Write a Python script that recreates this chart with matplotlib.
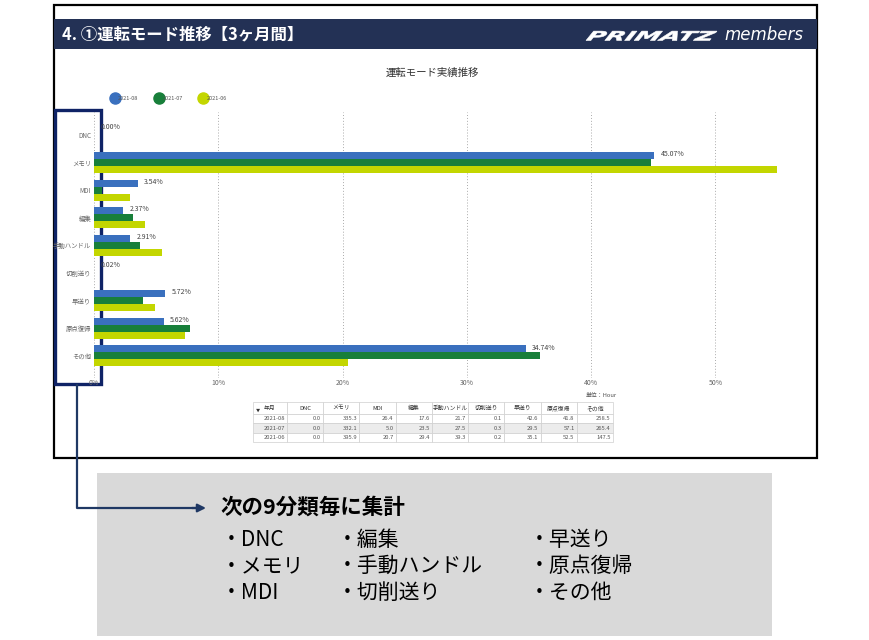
import matplotlib
matplotlib.use("Agg")
import matplotlib.pyplot as plt
from matplotlib.patches import Rectangle, PathPatch
from matplotlib.lines import Line2D
from matplotlib.textpath import TextPath
from matplotlib.font_manager import FontProperties
from matplotlib.transforms import Affine2D

plt.rcParams["font.family"] = ["Noto Sans CJK JP", "DejaVu Sans"]

# ---- data ------------------------------------------------------------------
categories = ["DNC", "メモリ", "MDI", "編集", "手動ハンドル", "切削送り", "早送り", "原点復帰", "その他"]
months = ["2021-08", "2021-07", "2021-06"]
colors = ["#3A70BE", "#187F3A", "#C3D600"]

# share of operating time per mode [%]
pct_2021_08 = [0.00, 45.07, 3.54, 2.37, 2.91, 0.02, 5.72, 5.62, 34.74]
pct_2021_07 = [0.00, 44.85, 0.68, 3.17, 3.71, 0.04, 3.98, 7.71, 35.85]
pct_2021_06 = [0.00, 54.96, 2.87, 4.08, 5.46, 0.03, 4.87, 7.29, 20.47]

# hours table under the chart
hours_2021_08 = [0.0, 335.3, 26.4, 17.6, 21.7, 0.1, 42.6, 41.8, 258.5]
hours_2021_07 = [0.0, 332.1, 5.0, 23.5, 27.5, 0.3, 29.5, 57.1, 265.4]
hours_2021_06 = [0.0, 395.9, 20.7, 29.4, 39.3, 0.2, 35.1, 52.5, 147.5]

xticks = [0, 10, 20, 30, 40, 50]
summary_items = [["DNC", "メモリ", "MDI"],
                 ["編集", "手動ハンドル", "切削送り"],
                 ["早送り", "原点復帰", "その他"]]

W, H = 870, 640
fig = plt.figure(figsize=(W / 100, H / 100), dpi=100)

# background layer in pixel coordinates
bg = fig.add_axes([0, 0, 1, 1])
bg.set_xlim(0, W)
bg.set_ylim(H, 0)
bg.axis("off")

navy = "#233155"
bg.add_patch(Rectangle((54, 5), 763, 453, fill=False, ec="black", lw=1.6, zorder=1))
bg.add_patch(Rectangle((54, 19), 763, 30, fc=navy, ec="none", zorder=2))
bg.text(62, 34.5, "4. ①運転モード推移【3ヶ月間】", color="white", fontsize=11.8,
        fontweight="bold", va="center", ha="left", zorder=3)

# stretched, slanted logo
tp = TextPath((0, 0), "PRIMATZ", size=14,
              prop=FontProperties(family="DejaVu Sans", weight="bold", style="italic"))
ext = tp.get_extents()
sx = 127 / ext.width
tr = (Affine2D().translate(-ext.x0, 0).skew_deg(12, 0).scale(sx, -0.92)
      .translate(586, 40.5))
bg.add_patch(PathPatch(tr.transform_path(tp), fc="white", ec="white", lw=0.4, zorder=3))
bg.text(724, 35, "members", color="white", fontsize=12, style="italic",
        family="DejaVu Sans", va="center", ha="left", zorder=3)

bg.text(432, 73, "運転モード実績推移", fontsize=7.5, color="#333333", ha="center", va="center")

# ---- bar chart -------------------------------------------------------------
x0_px, x1_px, top_px, bot_px = 94, 808, 112, 378
px_per_pct = 12.43
ax = fig.add_axes([x0_px / W, 1 - bot_px / H, (x1_px - x0_px) / W, (bot_px - top_px) / H])
ax.set_facecolor("none")

y = list(range(len(categories)))
bh = 0.254
series = [pct_2021_08, pct_2021_07, pct_2021_06]
for i, (vals, c) in enumerate(zip(series, colors)):
    off = (i - 1) * bh
    ax.barh([v + off for v in y], vals, height=bh, color=c, zorder=2)

for yi, v in zip(y, pct_2021_08):
    ax.text(v + 0.5, yi - bh - 0.05, f"{v:.2f}%", fontsize=5, color="#444444",
            va="center", ha="left", zorder=3)

ax.set_xlim(0, (x1_px - x0_px) / px_per_pct)
ax.set_ylim(len(categories) - 1 + 0.8, -0.83)
ax.set_xticks(xticks)
ax.set_xticklabels([f"{t}%" for t in xticks])
ax.set_yticks(y)
ax.set_yticklabels(categories)
ax.tick_params(axis="both", length=0, labelcolor="#666666")
ax.tick_params(axis="x", pad=1, labelsize=5)
ax.tick_params(axis="y", pad=2, labelsize=4.6)
for t in xticks:
    ax.axvline(t, color="#aaaaaa", lw=0.7, ls=(0, (1, 2)), zorder=1)
for s in ax.spines.values():
    s.set_visible(False)

handles = [Line2D([], [], marker="o", ls="none", ms=8, color=c) for c in colors]
fig.legend(handles, months, loc="center left", bbox_to_anchor=(107 / W, 1 - 98 / H),
           ncol=3, frameon=False, fontsize=4, handletextpad=0.1, columnspacing=3.2,
           handlelength=1.0, labelcolor="#555555")

# ---- hours table -----------------------------------------------------------
header = ["年月"] + categories
rows = [[m] + [f"{v:.1f}" for v in h]
        for m, h in zip(months, [hours_2021_08, hours_2021_07, hours_2021_06])]
tx0, ty0, tw, tht = 253, 402, 360, 40
col_w = [34] + [36.2] * 9
tbl = bg.table(cellText=rows, colLabels=header, cellLoc="right", colLoc="center",
               colWidths=[c / sum(col_w) for c in col_w],
               bbox=[tx0 / W, 1 - (ty0 + tht) / H, tw / W, tht / H])
tbl.auto_set_font_size(False)
for (r, c), cell in tbl.get_celld().items():
    cell.set_edgecolor("#cfcfcf")
    cell.set_linewidth(0.5)
    cell.set_height(12 if r == 0 else 9.3)
    cell.get_text().set_fontsize(4.2)
    cell.get_text().set_color("#333333" if r == 0 else "#555555")
    cell.PAD = 0.06
    if r == 2:
        cell.set_facecolor("#ececec")
bg.text(256, 411, "▼", fontsize=3, color="#333333", ha="left", va="center")
bg.text(617, 395, "単位：Hour", fontsize=4.2, color="#555555", ha="right", va="center")

# ---- highlight box, connector and summary panel ---------------------------
hl = "#0F2366"
bg.add_patch(Rectangle((55, 110), 46, 274, fill=False, ec=hl, lw=2.4, zorder=5))
bg.plot([77, 77, 196], [385, 508, 508], color="#1F3864", lw=1.6, zorder=5)
bg.annotate("", xy=(206, 508), xytext=(192, 508),
            arrowprops=dict(arrowstyle="-|>", color="#1F3864", lw=1.6,
                            mutation_scale=12, shrinkA=0, shrinkB=0), zorder=5)

bg.add_patch(Rectangle((97, 473), 675, 163, fc="#d9d9d9", ec="none", zorder=1))
bg.text(220, 507, "次の9分類毎に集計", fontsize=15.5, fontweight="bold", color="black",
        ha="left", va="center", zorder=3)
col_x = [221, 337, 529]
row_y = [540, 566, 593]
for cx, items in zip(col_x, summary_items):
    for ry, item in zip(row_y, items):
        bg.text(cx, ry, "・" + item, fontsize=15, color="black", ha="left", va="center", zorder=3)

fig.savefig("out.png", dpi=100)
